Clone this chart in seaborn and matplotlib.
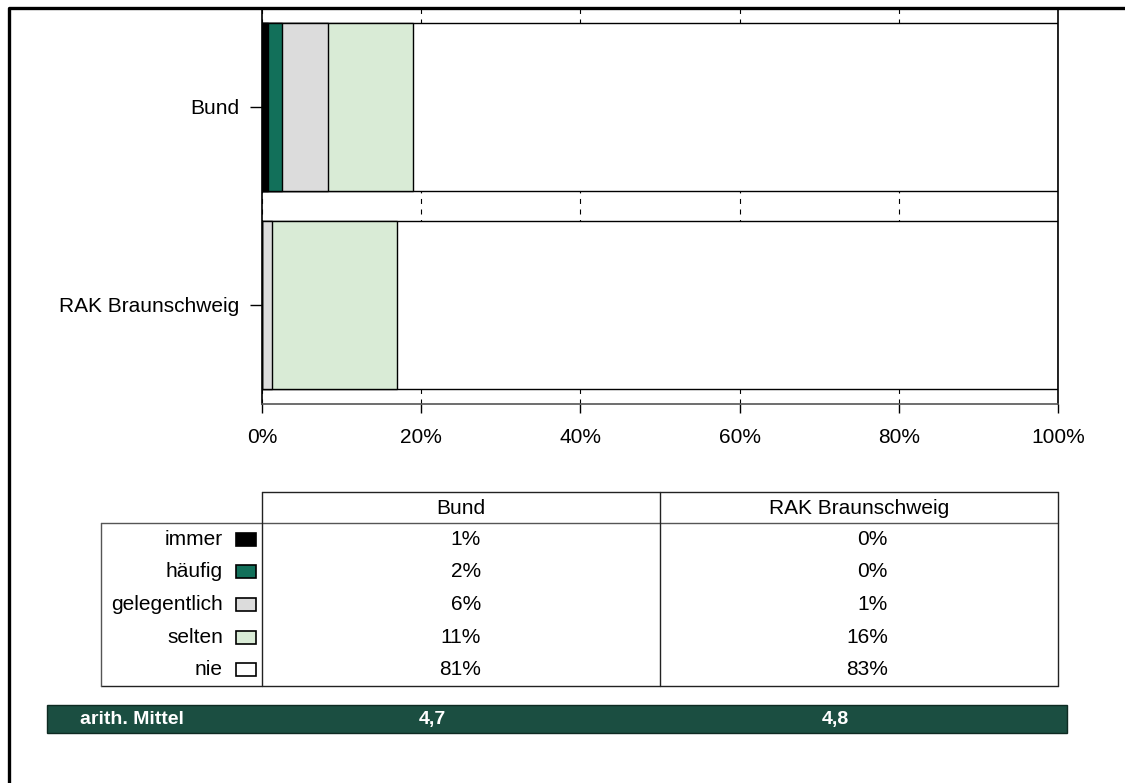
import numpy as np
import pandas as pd
import matplotlib
matplotlib.use("Agg")
import matplotlib.pyplot as plt
import seaborn as sns

# Daten
gruppen = ["Bund", "RAK Braunschweig"]
kategorien = ["immer", "häufig", "gelegentlich", "selten", "nie"]
bund = [0.8, 1.7, 5.8, 10.7, 81.0]
rak = [0.0, 0.0, 1.2, 15.7, 83.1]
bund_txt = ["1%", "2%", "6%", "11%", "81%"]
rak_txt = ["0%", "0%", "1%", "16%", "83%"]
mittel = ["4,7", "4,8"]
farben = ["#000000", "#12705a", "#dcdcdc", "#d9ebd6", "#ffffff"]
dunkelgruen = "#1b4e41"

sns.set_theme(style="white")
plt.rcParams["font.family"] = ["Liberation Sans", "DejaVu Sans"]
plt.rcParams["text.color"] = "black"
plt.rcParams["xtick.color"] = "black"
plt.rcParams["ytick.color"] = "black"
FS = 15.0

W, H = 1125, 783
fig = plt.figure(figsize=(W / 100, H / 100), dpi=100)

# Balkendiagramm
ax = fig.add_axes([262 / W, 1 - 404 / H, 796 / W, 396 / H])
kum = pd.DataFrame({"Bund": np.cumsum(bund), "RAK Braunschweig": np.cumsum(rak)},
                   index=kategorien)
# gestapelte Balken: von hinten (100%) nach vorne zeichnen
for kat, farbe in reversed(list(zip(kategorien, farben))):
    df = pd.DataFrame({"gruppe": gruppen, "wert": kum.loc[kat].values})
    sns.barplot(data=df, x="wert", y="gruppe", orient="h", color=farbe,
                saturation=1, edgecolor="black", linewidth=1.0, width=0.845, ax=ax)

ax.set_xlim(0, 100)
ax.set_ylim(1.5, -0.5)
ax.set_xticks([0, 20, 40, 60, 80, 100])
ax.set_xticklabels([f"{t}%" for t in [0, 20, 40, 60, 80, 100]], fontsize=FS)
ax.set_yticks([0, 1])
ax.set_yticklabels(gruppen, fontsize=FS)
ax.set_xlabel("")
ax.set_ylabel("")
ax.tick_params(axis="x", direction="out", length=6.5, width=1, colors="black", pad=11, bottom=True)
ax.tick_params(axis="y", direction="out", length=8.6, width=1, colors="black", pad=8, left=True)
ax.xaxis.grid(True, linestyle=(0, (4.5, 5)), color="black", linewidth=0.8)
ax.set_axisbelow(True)
for s in ["left", "right"]:
    ax.spines[s].set_color("black")
    ax.spines[s].set_linewidth(1.2)
ax.spines["bottom"].set_color("#555555")
ax.spines["bottom"].set_linewidth(1.2)
ax.spines["top"].set_visible(False)

# Rahmen, Tabelle, Mittelwert in Pixelkoordinaten
ov = fig.add_axes([0, 0, 1, 1], zorder=5)
ov.set_xlim(0, W)
ov.set_ylim(H, 0)
ov.axis("off")
ov.patch.set_alpha(0)

ov.plot([9, 9, W], [H, 8, 8], color="black", lw=2.4, solid_capstyle="butt")

lc = "#222222"
ov.plot([262, 1058], [492, 492], color=lc, lw=1)
ov.plot([101, 1058], [523, 523], color="#555555", lw=1)
ov.plot([101, 1058], [686, 686], color=lc, lw=1)
ov.plot([101, 101], [523, 686], color="#555555", lw=1)
for xv in [262, 660, 1058]:
    ov.plot([xv, xv], [492, 686], color=lc, lw=1)

ov.text(461, 508, gruppen[0], ha="center", va="center", fontsize=FS)
ov.text(859, 508, gruppen[1], ha="center", va="center", fontsize=FS)

zeile = (686 - 523) / 5
for i, kat in enumerate(kategorien):
    yc = 523 + zeile * (i + 0.5)
    ov.text(223, yc, kat, ha="right", va="center", fontsize=FS)
    ov.add_patch(plt.Rectangle((236, yc - 6.5), 20, 13, facecolor=farben[i],
                               edgecolor="black", lw=1.2))
    ov.text(481, yc, bund_txt[i], ha="right", va="center", fontsize=FS)
    ov.text(888, yc, rak_txt[i], ha="right", va="center", fontsize=FS)

ov.add_patch(plt.Rectangle((47, 705), 1020, 28, facecolor=dunkelgruen,
                           edgecolor="#0e2a22", lw=1))
ov.text(80, 719.5, "arith. Mittel", ha="left", va="center", fontsize=14,
        fontweight="bold", color="white")
ov.text(446, 719.5, mittel[0], ha="right", va="center", fontsize=14,
        fontweight="bold", color="white")
ov.text(849, 719.5, mittel[1], ha="right", va="center", fontsize=14,
        fontweight="bold", color="white")

fig.savefig("out.png", dpi=100)
